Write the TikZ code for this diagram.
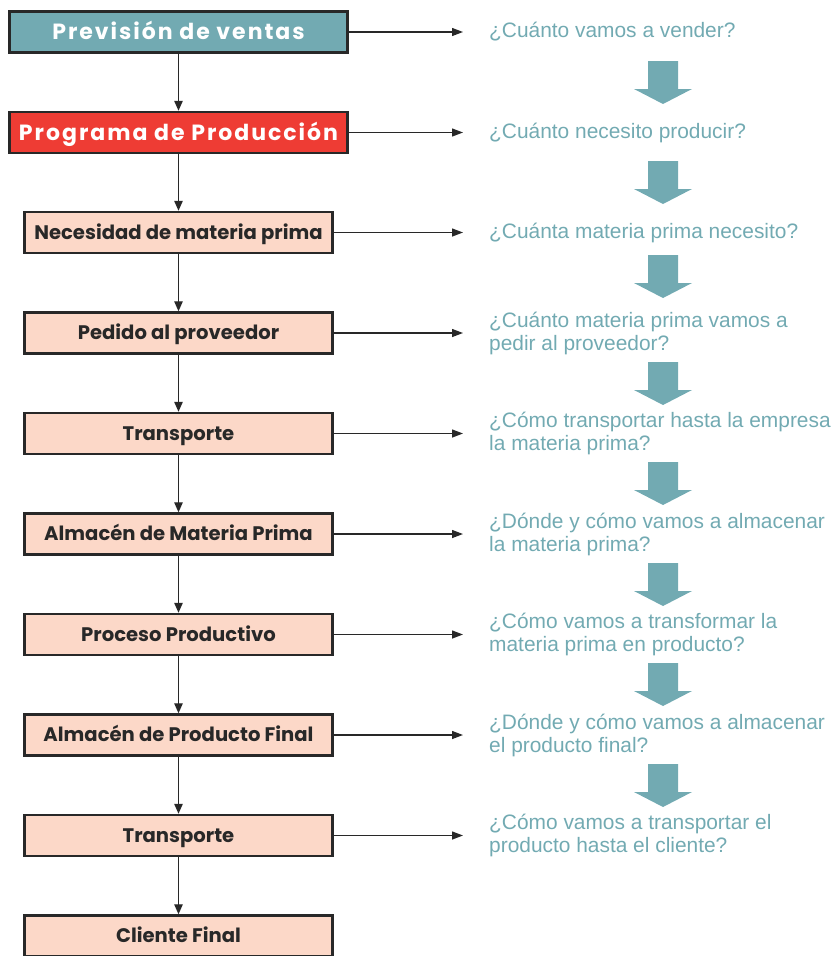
\documentclass[tikz,border=0pt]{standalone}
\usepackage{fontspec}
\setmainfont{Liberation Sans}
\newfontfamily\boxfont{Poppins}
\newfontfamily\topfont{Poppins}[LetterSpace=9]
\usetikzlibrary{arrows.meta}
\definecolor{tealc}{RGB}{114,170,178}
\definecolor{redc}{RGB}{238,60,52}
\definecolor{peach}{RGB}{252,216,200}
\definecolor{edgec}{RGB}{40,40,40}
\begin{document}
\begin{tikzpicture}[x=1pt,y=-1pt,
  topbox/.style={draw=edgec,line width=2.5pt,minimum width=338pt,minimum height=41pt,inner sep=0pt,
    text height=15.4pt,text depth=0pt,
    text=white,font=\topfont\bfseries\fontsize{22}{24}\selectfont},
  stepbox/.style={draw=edgec,line width=2.5pt,fill=peach,minimum width=308pt,minimum height=41pt,inner sep=0pt,
    text height=13.7pt,text depth=0pt,
    text=edgec,font=\boxfont\bfseries\fontsize{19.6}{22}\selectfont},
  qtext/.style={anchor=west,align=left,inner sep=0pt,text=tealc,font=\fontsize{20.9}{23}\selectfont},
  flow/.style={draw=edgec,line width=1.3pt,-{Triangle[length=10pt,width=8.5pt]}},
  side/.style={draw=edgec,line width=1.3pt,-{Triangle[length=11pt,width=8pt]}},
  bigarrow/.style={fill=tealc,draw=none}
]
\useasboundingbox (0,0) rectangle (839,956);
\clip (0,0) rectangle (839,956);

\node[topbox,fill=tealc] (b1) at (178.5,32) {Previsión de ventas};
\node[topbox,fill=redc] (b2) at (178.5,132.5) {Programa de Producción};
\node[stepbox] (b3) at (178.5,232.5) {Necesidad de materia prima};
\node[stepbox] (b4) at (178.5,333) {Pedido al proveedor};
\node[stepbox] (b5) at (178.5,433.5) {Transporte};
\node[stepbox] (b6) at (178.5,534) {Almacén de Materia Prima};
\node[stepbox] (b7) at (178.5,634.5) {Proceso Productivo};
\node[stepbox] (b8) at (178.5,735) {Almacén de Producto Final};
\node[stepbox] (b9) at (178.5,835.5) {Transporte};
\node[stepbox] (b10) at (178.5,936) {Cliente Final};

\foreach \a/\b in {b1/b2,b2/b3,b3/b4,b4/b5,b5/b6,b6/b7,b7/b8,b8/b9,b9/b10}
  \draw[flow] (\a.south) -- (\b.north);

\node[qtext] (q1) at (489,32) {¿Cuánto vamos a vender?};
\node[qtext] (q2) at (489,132.5) {¿Cuánto necesito producir?};
\node[qtext] (q3) at (489,232.5) {¿Cuánta materia prima necesito?};
\node[qtext] (q4) at (489,333) {¿Cuánto materia prima vamos a\\pedir al proveedor?};
\node[qtext] (q5) at (489,433.5) {¿Cómo transportar hasta la empresa\\la materia prima?};
\node[qtext] (q6) at (489,534) {¿Dónde y cómo vamos a almacenar\\la materia prima?};
\node[qtext] (q7) at (489,634.5) {¿Cómo vamos a transformar la\\materia prima en producto?};
\node[qtext] (q8) at (489,735) {¿Dónde y cómo vamos a almacenar\\el producto final?};
\node[qtext] (q9) at (489,835.5) {¿Cómo vamos a transportar el\\producto hasta el cliente?};

\foreach \i in {1,...,9}
  \draw[side] (b\i.east|-q\i.west) -- (463,0|-q\i.west);

\foreach \t in {61,161,255,362,462,563,663,764}
  \fill[bigarrow] (648,\t) -- (678,\t) -- (678,\t+28) -- (692,\t+28) -- (663,\t+43) -- (634,\t+28) -- (648,\t+28) -- cycle;
\end{tikzpicture}
\end{document}
